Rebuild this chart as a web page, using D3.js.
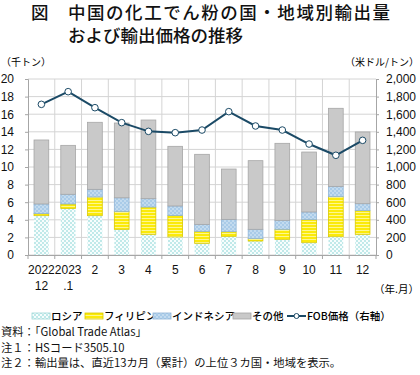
<!DOCTYPE html>
<html>
<head>
<meta charset="utf-8">
<script src="https://cdn.jsdelivr.net/npm/d3@7"></script>
<style>
  body { margin: 0; background: #fff; }
  text { font-family: "Liberation Sans", Arial, sans-serif; }
  .jp { font-family: "Noto Sans CJK JP", sans-serif; }
</style>
</head>
<body>
<div id="chart"></div>
<script>
// data (千トン, 米ドル/トン)
const months = ["2022.12", "2023.1", "2", "3", "4", "5", "6", "7", "8", "9", "10", "11", "12"];
const tickTop = ["2022", "2023", "2", "3", "4", "5", "6", "7", "8", "9", "10", "11", "12"];
const tickBottom = ["12", ".1", "", "", "", "", "", "", "", "", "", "", ""];
const russia = [4.47, 5.3, 4.47, 2.92, 2.35, 2.05, 1.33, 2.12, 1.59, 1.78, 1.4, 2.08, 2.35];
const philippines = [0.23, 0.5, 2.13, 2.04, 3.1, 2.45, 1.36, 0.53, 0.27, 1.14, 2.62, 4.55, 2.69];
const indonesia = [1.1, 1.1, 0.86, 1.54, 0.95, 1.07, 0.79, 1.4, 1.06, 1.02, 0.87, 1.17, 0.79];
const other = [7.27, 5.56, 7.62, 8.5, 8.94, 6.78, 7.96, 5.72, 7.8, 8.75, 6.81, 8.87, 8.15];
const fob = [1712, 1856, 1674, 1504, 1405, 1390, 1420, 1629, 1466, 1420, 1261, 1133, 1303];
const seriesNames = ["ロシア", "フィリピン", "インドネシア", "その他"];

const params = {
    width: 420, height: 375,
    plot: { left: 28, right: 376, top: 79, bottom: 255 }
};

let svg = d3.select("#chart")
    .append("svg")
    .attr("width", params.width)
    .attr("height", params.height);

// patterns
let defs = svg.append("defs");
let pr = defs.append("pattern").attr("id", "p-russia").attr("patternUnits", "userSpaceOnUse")
    .attr("width", 4).attr("height", 4);
pr.append("rect").attr("width", 4).attr("height", 4).attr("fill", "#f7fdfd");
pr.append("circle").attr("cx", 1).attr("cy", 1).attr("r", 0.75).attr("fill", "#6fcbcc");
pr.append("circle").attr("cx", 3).attr("cy", 3).attr("r", 0.75).attr("fill", "#6fcbcc");

let pp = defs.append("pattern").attr("id", "p-phil").attr("patternUnits", "userSpaceOnUse")
    .attr("width", 6).attr("height", 3);
pp.append("rect").attr("width", 6).attr("height", 3).attr("fill", "#fbea0a");
pp.append("rect").attr("y", 2).attr("width", 6).attr("height", 0.8).attr("fill", "#fffbb0");

let pi = defs.append("pattern").attr("id", "p-indo").attr("patternUnits", "userSpaceOnUse")
    .attr("width", 4).attr("height", 4);
pi.append("rect").attr("width", 4).attr("height", 4).attr("fill", "#a9cbe8");
pi.append("circle").attr("cx", 1).attr("cy", 1).attr("r", 0.8).attr("fill", "#e4f0fa");
pi.append("circle").attr("cx", 3).attr("cy", 3).attr("r", 0.8).attr("fill", "#e4f0fa");

const fills = ["url(#p-russia)", "url(#p-phil)", "url(#p-indo)", "#c9c9c9"];
const strokes = ["none", "#d8c800", "#8fb3d6", "#a6a6a6"];

let x = d3.scaleBand().domain(months)
    .range([params.plot.left, params.plot.right]).paddingInner(0.45).paddingOuter(0.225);
let xb = d3.scaleBand().domain(months).range([params.plot.left, params.plot.right]);
let yL = d3.scaleLinear().domain([0, 20]).range([params.plot.bottom, params.plot.top]);
let yR = d3.scaleLinear().domain([0, 2000]).range([params.plot.bottom, params.plot.top]);

// title
svg.append("text").attr("class", "jp").attr("x", 31).attr("y", 19)
    .attr("font-size", 17.5).attr("font-weight", 500).attr("fill", "#111").text("図");
svg.append("text").attr("class", "jp").attr("x", 68).attr("y", 19)
    .attr("font-size", 17.5).attr("font-weight", 500).attr("fill", "#111")
    .attr("textLength", 322).text("中国の化工でん粉の国・地域別輸出量");
svg.append("text").attr("class", "jp").attr("x", 68).attr("y", 42)
    .attr("font-size", 17.5).attr("font-weight", 500).attr("fill", "#111")
    .text("および輸出価格の推移");

// unit labels
svg.append("text").attr("class", "jp").attr("x", 1).attr("y", 66)
    .attr("font-size", 10).text("（千トン）");
svg.append("text").attr("class", "jp").attr("x", 419).attr("y", 66)
    .attr("text-anchor", "end").attr("font-size", 10).text("（米ドル/トン）");

// grid
let g = svg.append("g");
g.selectAll(".hgrid").data(yL.ticks(10)).enter().append("line")
    .attr("x1", params.plot.left).attr("x2", params.plot.right)
    .attr("y1", d => yL(d)).attr("y2", d => yL(d))
    .attr("stroke", "#d4d4d4").attr("stroke-width", 1);
g.selectAll(".vgrid").data(months.slice(1)).enter().append("line")
    .attr("x1", d => xb(d)).attr("x2", d => xb(d))
    .attr("y1", params.plot.top).attr("y2", params.plot.bottom)
    .attr("stroke", "#d4d4d4").attr("stroke-width", 1);

// stacked bars
let table = months.map((m, i) => ({
    month: m, russia: russia[i], philippines: philippines[i],
    indonesia: indonesia[i], other: other[i]
}));
let stack = d3.stack().keys(["russia", "philippines", "indonesia", "other"])(table);

g.selectAll(".layer").data(stack).enter().append("g")
    .attr("fill", (d, i) => fills[i])
    .attr("stroke", (d, i) => strokes[i])
    .attr("stroke-width", 0.8)
    .selectAll("rect").data(d => d).enter().append("rect")
    .attr("x", d => x(d.data.month))
    .attr("y", d => yL(d[1]))
    .attr("width", x.bandwidth())
    .attr("height", d => yL(d[0]) - yL(d[1]));

// axes
let axisL = svg.append("g").attr("transform", `translate(${params.plot.left},0)`)
    .call(d3.axisLeft(yL).ticks(10).tickSize(3).tickPadding(11));
let axisR = svg.append("g").attr("transform", `translate(${params.plot.right},0)`)
    .call(d3.axisRight(yR).ticks(10).tickSize(3).tickPadding(7).tickFormat(d3.format(",")));
let axisB = svg.append("g").attr("transform", `translate(0,${params.plot.bottom})`)
    .call(d3.axisBottom(xb).tickSize(0).tickFormat(""));
[axisL, axisR, axisB].forEach(a => {
    a.select(".domain").attr("stroke", "#a6a6a6");
    a.selectAll(".tick line").attr("stroke", "#a6a6a6");
    a.selectAll("text").attr("font-size", 12).attr("fill", "#111")
        .attr("font-family", "Liberation Sans, Arial, sans-serif");
});
axisB.selectAll(".bline").data(months.concat(["end"])).enter().append("line")
    .attr("x1", (d, i) => params.plot.left + i * xb.bandwidth())
    .attr("x2", (d, i) => params.plot.left + i * xb.bandwidth())
    .attr("y1", 0).attr("y2", 4).attr("stroke", "#a6a6a6");

// x tick labels (two rows)
svg.selectAll(".xt1").data(months).enter().append("text")
    .attr("x", d => xb(d) + xb.bandwidth() / 2).attr("y", 274)
    .attr("text-anchor", "middle").attr("font-size", 12).attr("fill", "#111")
    .text((d, i) => tickTop[i]);
svg.selectAll(".xt2").data(months).enter().append("text")
    .attr("x", d => xb(d) + xb.bandwidth() / 2).attr("y", 290)
    .attr("text-anchor", "middle").attr("font-size", 12).attr("fill", "#111")
    .text((d, i) => tickBottom[i]);
svg.append("text").attr("class", "jp").attr("x", 419).attr("y", 293)
    .attr("text-anchor", "end").attr("font-size", 10.5).text("（年.月）");

// FOB line
let line = d3.line()
    .x((d, i) => xb(months[i]) + xb.bandwidth() / 2)
    .y(d => yR(d));
svg.append("path").datum(fob).attr("d", line)
    .attr("fill", "none").attr("stroke", "#1b4a66").attr("stroke-width", 2);
svg.selectAll(".dot").data(fob).enter().append("circle")
    .attr("cx", (d, i) => xb(months[i]) + xb.bandwidth() / 2)
    .attr("cy", d => yR(d)).attr("r", 3.3)
    .attr("fill", "#fff").attr("stroke", "#1b4a66").attr("stroke-width", 1);

// legend
const legendX = [32, 85, 153, 233];
let legend = svg.append("g").attr("transform", "translate(0,316)");
seriesNames.forEach((name, i) => {
    legend.append("rect").attr("x", legendX[i]).attr("y", -3).attr("width", 18).attr("height", 6)
        .attr("fill", fills[i]).attr("stroke", i === 0 ? "#9fd8d8" : strokes[i]).attr("stroke-width", 0.8);
    legend.append("text").attr("class", "jp").attr("x", legendX[i] + 19).attr("y", 4)
        .attr("font-size", 10.5).attr("font-weight", 500).text(name);
});
legend.append("line").attr("x1", 287).attr("x2", 306).attr("y1", 0).attr("y2", 0)
    .attr("stroke", "#1b4a66").attr("stroke-width", 2);
legend.append("circle").attr("cx", 296.5).attr("cy", 0).attr("r", 2.5)
    .attr("fill", "#fff").attr("stroke", "#1b4a66");
legend.append("text").attr("class", "jp").attr("x", 307).attr("y", 4)
    .attr("font-size", 10.5).attr("font-weight", 500).text("FOB価格（右軸）");

// notes
const notes = ["資料：「Global Trade Atlas」", "注１：HSコード3505.10", "注２：輸出量は、直近13カ月（累計）の上位３カ国・地域を表示。"];
svg.selectAll(".note").data(notes).enter().append("text").attr("class", "jp")
    .attr("x", 1).attr("y", (d, i) => 336 + i * 15.5)
    .attr("font-size", 11.3).attr("fill", "#111").text(d => d);
</script>
</body>
</html>
